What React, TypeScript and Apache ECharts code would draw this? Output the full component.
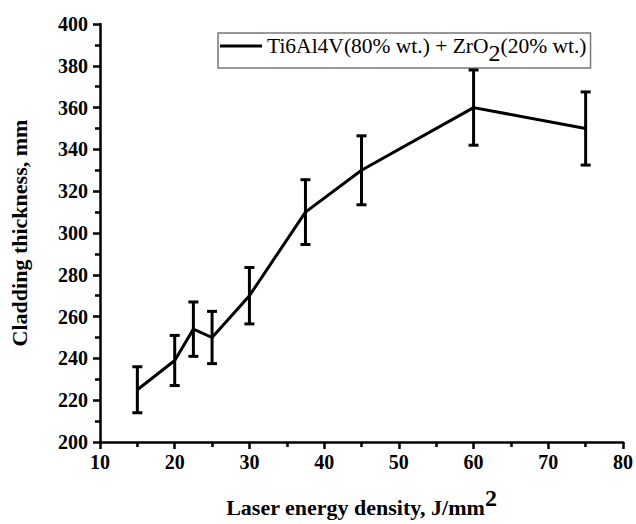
import React, { useEffect, useRef } from "react";
import * as echarts from "echarts";

const energyDensity = [15, 20, 22.5, 25, 30, 37.5, 45, 60, 75];
const thickness = [225, 239, 254, 250, 270, 310, 330, 360, 350];
const errorSize = [11, 12, 13, 12.5, 13.5, 15.5, 16.5, 18, 17.5];
const seriesName = "Ti6Al4V(80% wt.) + ZrO2(20% wt.)";

const FONT = "'Liberation Serif', 'Times New Roman', serif";

export default function App() {
  const ref = useRef<HTMLDivElement>(null);
  useEffect(() => {
    if (!ref.current) return;
    const chart = echarts.init(ref.current, undefined, { renderer: "svg" });
    const lineData = energyDensity.map((x, i) => [x, thickness[i]]);
    const errData = energyDensity.map((x, i) => [x, thickness[i] - errorSize[i], thickness[i] + errorSize[i]]);
    chart.setOption({
      animation: false,
      backgroundColor: "#fff",
      textStyle: { fontFamily: FONT },
      grid: { left: 100, right: 12, top: 24, bottom: 82, containLabel: false },
      legend: {
        show: true,
        data: [{ name: seriesName, icon: "rect" }],
        left: 218,
        top: 33,
        itemWidth: 42,
        itemHeight: 3,
        itemGap: 0,
        padding: [2, 4, 3, 2],
        borderColor: "#777",
        borderWidth: 1.5,
        borderRadius: 0,
        textStyle: {
          fontFamily: FONT,
          fontSize: 21.5,
          color: "#000",
          rich: {
            n: { fontFamily: FONT, fontSize: 21.5, color: "#000" },
            s: { fontFamily: FONT, fontSize: 24, color: "#000", verticalAlign: "bottom", padding: [14, 0, 0, 0] },
          },
        },
        formatter: () => "{n|Ti6Al4V(80% wt.) + ZrO}{s|2}{n|(20% wt.)}",
      },
      xAxis: {
        type: "value",
        min: 10,
        max: 80,
        interval: 10,
        name: "{t|Laser energy density, J/mm}{p|2}",
        nameLocation: "middle",
        nameGap: 44,
        nameTextStyle: {
          fontFamily: FONT,
          rich: {
            t: { fontFamily: FONT, fontWeight: "bold", fontSize: 22, color: "#000", padding: [8, 0, 0, 0] },
            p: { fontFamily: FONT, fontWeight: "bold", fontSize: 24, color: "#000", verticalAlign: "top", padding: [0, 0, 10, 0] },
          },
        },
        axisLine: { show: true, lineStyle: { color: "#000", width: 2.5 } },
        axisTick: { show: true, inside: false, length: 7, lineStyle: { color: "#000", width: 2.5 } },
        minorTick: { show: true, splitNumber: 2, length: 5, lineStyle: { color: "#000", width: 2.5 } },
        splitLine: { show: false },
        axisLabel: { fontFamily: FONT, fontWeight: "bold", fontSize: 20, color: "#000", margin: 10 },
      },
      yAxis: {
        type: "value",
        min: 200,
        max: 400,
        interval: 20,
        name: "Cladding thickness, mm",
        nameLocation: "middle",
        nameGap: 70,
        nameTextStyle: { fontFamily: FONT, fontWeight: "bold", fontSize: 22, color: "#000" },
        axisLine: { show: true, lineStyle: { color: "#000", width: 2.5 } },
        axisTick: { show: true, inside: false, length: 7, lineStyle: { color: "#000", width: 2.5 } },
        minorTick: { show: true, splitNumber: 2, length: 5, lineStyle: { color: "#000", width: 2.5 } },
        splitLine: { show: false },
        axisLabel: { fontFamily: FONT, fontWeight: "bold", fontSize: 20, color: "#000", margin: 12 },
      },
      series: [
        {
          name: seriesName,
          type: "line",
          data: lineData,
          symbol: "none",
          lineStyle: { color: "#000", width: 3 },
          itemStyle: { color: "#000" },
          z: 3,
        },
        {
          name: "err",
          type: "custom",
          data: errData,
          z: 4,
          renderItem: (params: any, api: any) => {
            const x = api.value(0);
            const lo = api.coord([x, api.value(1)]);
            const hi = api.coord([x, api.value(2)]);
            const hw = 5;
            const st = { stroke: "#000", lineWidth: 3 };
            return {
              type: "group",
              children: [
                { type: "line", shape: { x1: lo[0], y1: lo[1], x2: hi[0], y2: hi[1] }, style: st },
                { type: "line", shape: { x1: lo[0] - hw, y1: lo[1], x2: lo[0] + hw, y2: lo[1] }, style: st },
                { type: "line", shape: { x1: hi[0] - hw, y1: hi[1], x2: hi[0] + hw, y2: hi[1] }, style: st },
              ],
            };
          },
          encode: { x: 0, y: [1, 2] },
        },
      ],
    });
    return () => chart.dispose();
  }, []);
  return <div ref={ref} style={{ width: 636, height: 524, position: "absolute", left: 0, top: 0 }} />;
}
